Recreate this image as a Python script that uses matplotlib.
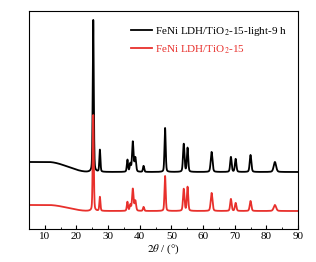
import numpy as np
import matplotlib.pyplot as plt

plt.rcParams['font.family'] = ['Liberation Serif', 'DejaVu Serif']
plt.rcParams['mathtext.fontset'] = 'stix'

# peak table (2theta, heights in plot units, FWHM)
peak_pos = [25.3, 27.4, 36.1, 37.0, 37.8, 38.6, 41.2, 48.0, 53.9, 55.1, 62.7, 68.8, 70.3, 75.0, 82.7]
peak_fwhm = [0.4, 0.4, 0.45, 0.45, 0.55, 0.55, 0.45, 0.45, 0.55, 0.5, 0.65, 0.55, 0.55, 0.6, 0.9]
black_h = [152, 22, 12, 8, 30, 14, 6, 44, 28, 24, 20, 15, 13, 17, 10]
red_h = [96, 14, 9, 6, 22, 10, 4, 35, 22, 24, 18, 12, 8, 10, 6]

# background levels (low angle hump, high angle flat)
black_bg = [67, 57]
red_bg = [24, 18]
hump_start, hump_end = 11.0, 24.0

labels = ['FeNi LDH/TiO$_2$-15-light-9 h', 'FeNi LDH/TiO$_2$-15']
colors = ['black', '#e8302c']

x = np.linspace(5, 90, 4000)


def pattern(heights, bg):
    lo, hi = bg
    s = np.clip((x - hump_start) / (hump_end - hump_start), 0, 1)
    y = lo + (hi - lo) * (3 * s ** 2 - 2 * s ** 3)
    for p, w, h in zip(peak_pos, peak_fwhm, heights):
        u = (x - p) / (w / 2)
        y = y + h * (0.3 / (1 + u ** 2) + 0.7 * np.exp(-np.log(2) * u ** 2))
    return y


fig = plt.figure(figsize=(3.16, 2.62), dpi=100)
ax = fig.add_axes([29 / 316, 1 - 229 / 262, 269 / 316, 218 / 262])

ax.plot(x, pattern(black_h, black_bg), color=colors[0], lw=1.3, label=labels[0])
ax.plot(x, pattern(red_h, red_bg), color=colors[1], lw=1.3, label=labels[1])

ax.set_xlim(5, 90)
ax.set_ylim(0, 218)
ax.set_yticks([])
ax.set_xticks(np.arange(10, 91, 10))
ax.set_xticks(np.arange(5, 90, 5), minor=True)
ax.tick_params(axis='x', direction='in', labelsize=8, length=3, pad=2)
ax.tick_params(axis='x', which='minor', direction='in', length=1.5)
ax.set_xlabel(r'$2\theta$ / (°)', fontsize=8, labelpad=1)

leg = ax.legend(loc='upper left', bbox_to_anchor=(0.379, 0.935), frameon=False,
                fontsize=8, handlelength=1.9, handletextpad=0.3, labelspacing=0.45,
                borderaxespad=0, borderpad=0)
for t, c in zip(leg.get_texts(), colors):
    t.set_color(c)

fig.savefig('out.png', dpi=100)
